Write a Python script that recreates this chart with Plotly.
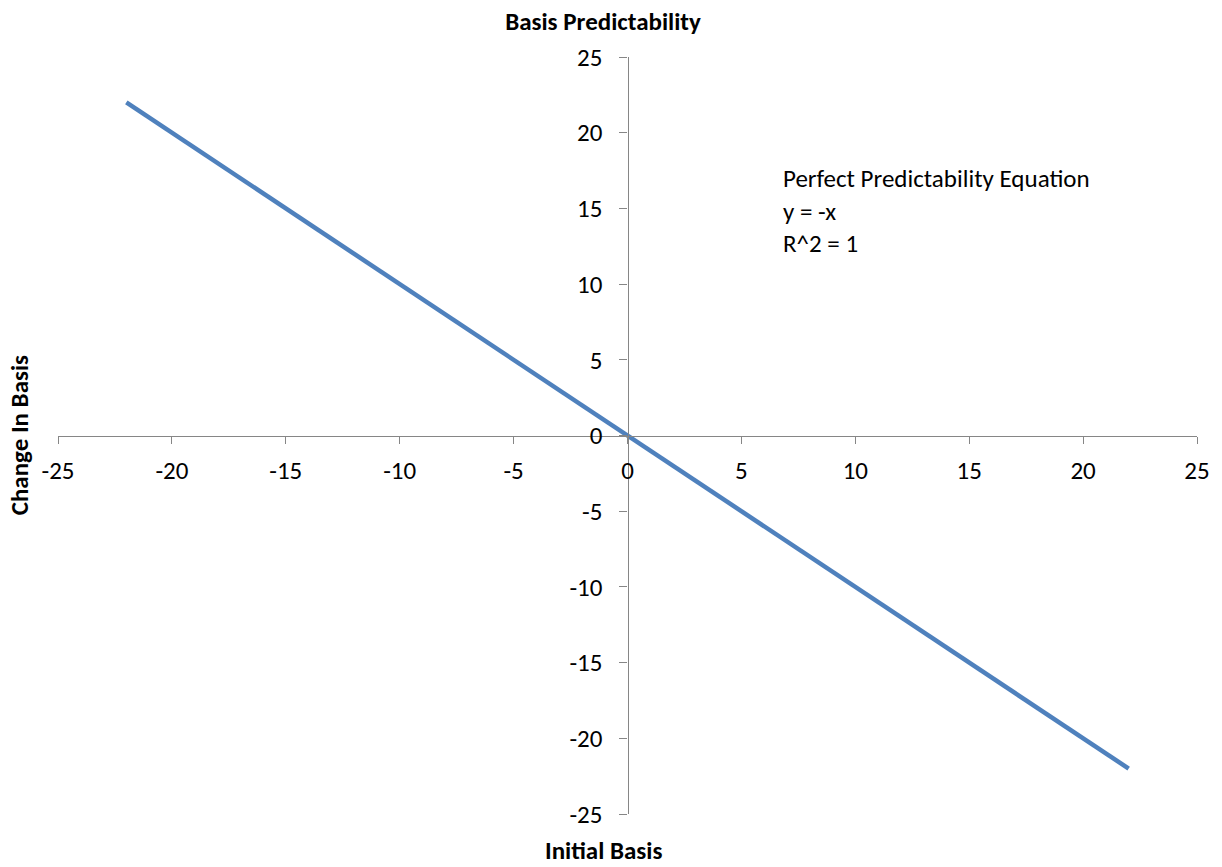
import plotly.graph_objects as go

# Data
x_values = [-22, 22]
y_values = [22, -22]
tick_vals = [-25, -20, -15, -10, -5, 0, 5, 10, 15, 20, 25]
tick_text = [str(v) for v in tick_vals]

chart_title = "Basis Predictability"
x_title = "Initial Basis"
y_title = "Change In Basis"
equation_lines = ["Perfect Predictability Equation", "y = -x", "R^2 = 1"]

FONT = "Calibri, Carlito, Lato, sans-serif"
AXIS_COLOR = "#868686"
LINE_COLOR = "#4F81BD"
FS = 25

fig = go.Figure()
fig.add_trace(go.Scatter(
    x=x_values, y=y_values, mode="lines",
    line=dict(color=LINE_COLOR, width=4.5),
    showlegend=False, hoverinfo="skip",
))

axis_common = dict(
    range=[-25, 25],
    tickvals=tick_vals,
    ticktext=tick_text,
    showgrid=False,
    zeroline=False,
    showline=True,
    linecolor=AXIS_COLOR,
    linewidth=1.2,
    ticks="outside",
    tickcolor=AXIS_COLOR,
    tickwidth=1.2,
    tickfont=dict(family=FONT, size=FS, color="#000000"),
    anchor="free",
    position=0.5,
    fixedrange=True,
)

fig.update_layout(
    width=1222, height=867,
    margin=dict(l=58, r=25, t=57, b=53),
    paper_bgcolor="white",
    plot_bgcolor="white",
    font=dict(family=FONT, size=FS, color="#000000"),
    xaxis=dict(**axis_common, side="bottom", ticklen=7, ticklabelstandoff=5),
    yaxis=dict(**axis_common, side="left", ticklen=8, ticklabelstandoff=12),
    title=dict(
        text="<b>" + chart_title + "</b>",
        x=0.4785, xref="paper", xanchor="center",
        y=1 - 21 / 867, yanchor="middle",
        font=dict(family=FONT, size=FS, color="#000000"),
    ),
)

fig.add_annotation(
    text="<b>" + x_title + "</b>",
    xref="paper", yref="paper", x=0.4785, y=-0.048,
    xanchor="center", yanchor="middle", showarrow=False,
    font=dict(family=FONT, size=FS, color="#000000"),
)
fig.add_annotation(
    text="<b>" + y_title + "</b>",
    xref="paper", yref="paper", x=-0.0335, y=0.5,
    xanchor="center", yanchor="middle", showarrow=False, textangle=-90,
    font=dict(family=FONT, size=FS, color="#000000"),
)
fig.add_annotation(
    text="<br>".join(equation_lines),
    xref="x", yref="y", x=6.75, y=14.83,
    xanchor="left", yanchor="middle", align="left", showarrow=False,
    font=dict(family=FONT, size=FS, color="#000000"),
)

fig.write_html(
    "out.html",
    config={"displayModeBar": False},
    post_script="document.body.style.margin='0';",
)
